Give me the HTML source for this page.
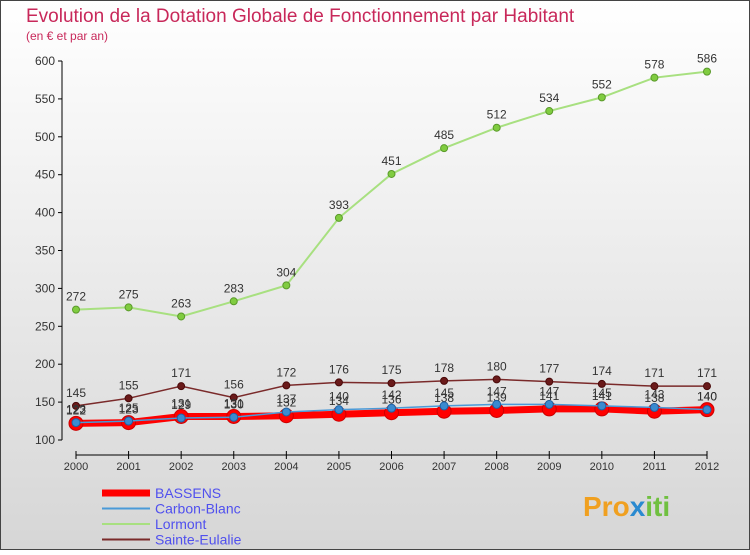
<!DOCTYPE html>
<html><head><meta charset="utf-8"><style>
body{margin:0;width:750px;height:550px;overflow:hidden;font-family:"Liberation Sans",sans-serif}
</style></head><body>
<svg width="750" height="550" xmlns="http://www.w3.org/2000/svg" font-family="Liberation Sans, sans-serif">
<defs><linearGradient id="bg" x1="0" y1="0" x2="0" y2="1"><stop offset="0" stop-color="#ffffff"/><stop offset="1" stop-color="#d6d6d6"/></linearGradient></defs>
<rect x="0.5" y="0.5" width="749" height="549" fill="url(#bg)" stroke="#444"/>
<text x="26" y="22" font-size="19" fill="#c8285a">Evolution de la Dotation Globale de Fonctionnement par Habitant</text>
<text x="26" y="40" font-size="12" fill="#c8285a">(en € et par an)</text>
<g id="axes"></g><g id="series"></g><g id="legend"></g>
<text x="583" y="516" font-size="28" font-weight="bold" fill="#f0a020">Pro<tspan fill="#2a8ad0">x</tspan><tspan fill="#70c040">iti</tspan></text>
</svg>
<script>
const years=[2000,2001,2002,2003,2004,2005,2006,2007,2008,2009,2010,2011,2012];
const yTicks=[100,150,200,250,300,350,400,450,500,550,600];
const bassens=[122,123,131,131,132,134,136,138,139,141,141,138,140];
const carbon=[123,125,129,130,137,140,142,145,147,147,145,143,140];
const lormont=[272,275,263,283,304,393,451,485,512,534,552,578,586];
const eulalie=[145,155,171,156,172,176,175,178,180,177,174,171,171];
const NS="http://www.w3.org/2000/svg";
const X=i=>76+i*(707-76)/(years.length-1);
const Y=v=>440-(v-100)*(440-61)/500;
function mk(t,a,p){const e=document.createElementNS(NS,t);for(const k in a)e.setAttribute(k,a[k]);p.appendChild(e);return e;}
const ax=document.getElementById('axes');
let e=mk('line',{x1:62,y1:Y(600),x2:62,y2:440,stroke:'#000'},ax);


yTicks.forEach(v=>{mk('line',{x1:58,x2:62,y1:Y(v),y2:Y(v),stroke:'#000'},ax);
 const t=mk('text',{x:55,y:Y(v)+4,'text-anchor':'end','font-size':12,fill:'#333'},ax);t.textContent=v;
 
 });
e=mk('line',{x1:76,x2:707,y1:455,y2:455,stroke:'#000'},ax);


years.forEach((y,i)=>{mk('line',{x1:X(i),x2:X(i),y1:451,y2:459,stroke:'#000'},ax);
 const t=mk('text',{x:X(i),y:470,'text-anchor':'middle','font-size':11,fill:'#333'},ax);t.textContent=y;
 
 });
const sg=document.getElementById('series');
function series(name,data,color,w,r,dot,dotStroke,labelColor){
 const g=mk('g',{},sg);
 
 
 mk('polyline',{points:data.map((v,i)=>X(i)+','+Y(v)).join(' '),fill:'none',stroke:color,'stroke-width':w},g);
 data.forEach((v,i)=>{const c=mk('circle',{cx:X(i),cy:Y(v),r:r,fill:dot,stroke:dotStroke,'stroke-width':1},g);
  
  
  const t=mk('text',{x:X(i),y:Y(v)-9,'text-anchor':'middle','font-size':12,fill:'#333'},g);t.textContent=v;
  
  });
}
series('lormont',lormont,'#a8e080',2,3.5,'#80cc40','#5a9a2a');
series('sainte-eulalie',eulalie,'#7a2a2a',1.5,3.5,'#6a1a1a','#4a0a0a');
series('bassens',bassens,'#ff0000',7,7,'#ff0000','#cc0000');
series('carbon-blanc',carbon,'#4a9ad8',1.5,4,'#3a8ad0','#2060a0');
const lg=document.getElementById('legend');
[['BASSENS','#ff0000',7],['Carbon-Blanc','#4a9ad8',2],['Lormont','#a8e080',2],['Sainte-Eulalie','#7a2a2a',2]].forEach((s,i)=>{
 const y=493+i*15.5;
 const l=mk('line',{x1:102,x2:150,y1:y,y2:y,stroke:s[1],'stroke-width':s[2]},lg);
 
 
 const t=mk('text',{x:155,y:y+5,'font-size':14,fill:'#5050ee'},lg);t.textContent=s[0];
 
 
});
</script>
</body></html>
